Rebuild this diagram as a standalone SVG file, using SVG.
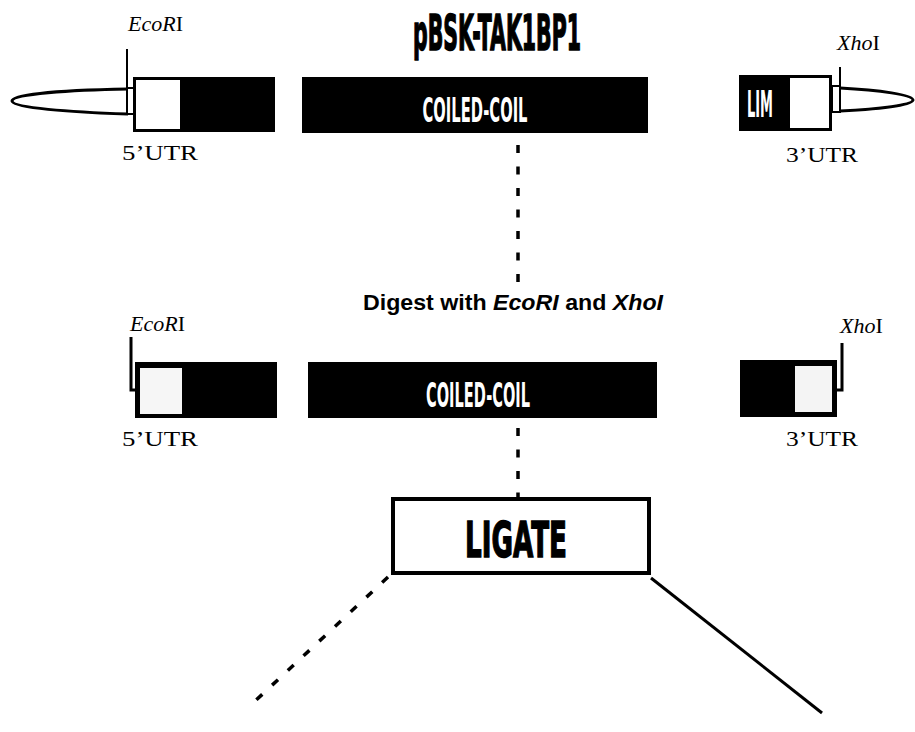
<svg xmlns="http://www.w3.org/2000/svg" width="915" height="732" viewBox="0 0 915 732">
<style>
.ser{font-family:"Liberation Serif","Times New Roman",serif;font-size:22px;fill:#000}
.it{font-style:italic}
.blk{fill:#000}
.wht{fill:#fff}
.cc{font-family:"DejaVu Sans",sans-serif;font-weight:bold;fill:#fff}
.heavy{font-family:"DejaVu Sans",sans-serif;font-weight:bold;fill:#000;stroke:#000;stroke-width:1.6}
.ln{stroke:#000;fill:none;stroke-width:3}
.dash{stroke:#000;fill:none;stroke-width:3.5;stroke-dasharray:8 13.5}
.sans{font-family:"Liberation Sans",Arial,sans-serif;font-weight:bold;font-size:22.5px;fill:#000}
</style>
<rect width="915" height="732" fill="#fff"/>

<g id="title">
<text class="heavy" x="497" y="50" font-size="50" text-anchor="middle" textLength="168" lengthAdjust="spacingAndGlyphs">pBSK-TAK1BP1</text>
</g>

<g id="row1-5prime">
<path class="ln" stroke-width="2.5" d="M128,89 C70,90 12,94 12,101 C12,108 70,112 128,114"/>
<rect x="127" y="88" width="7" height="26" fill="#fff" stroke="#000" stroke-width="2"/>
<line x1="127" y1="49" x2="127" y2="112" stroke="#000" stroke-width="2"/>
<rect class="blk" x="133" y="77" width="142" height="55"/>
<rect class="wht" x="136" y="80" width="44" height="49"/>
<text class="ser" x="128" y="31"><tspan class="it">EcoR</tspan>I</text>
<text class="ser" x="122" y="160" textLength="76" lengthAdjust="spacingAndGlyphs">5’UTR</text>
</g>

<g id="row1-coiled">
<rect class="blk" x="302" y="77" width="346" height="56"/>
<text class="cc" x="475" y="122" font-size="34" text-anchor="middle" textLength="105" lengthAdjust="spacingAndGlyphs">COILED-COIL</text>
</g>

<g id="row1-3prime">
<rect class="blk" x="739" y="75" width="93" height="56"/>
<rect class="wht" x="790" y="78" width="39" height="50"/>
<text class="cc" x="760" y="117" font-size="38" text-anchor="middle" textLength="26" lengthAdjust="spacingAndGlyphs">LIM</text>
<path class="ln" stroke-width="2.5" d="M840,88 C880,90 913,95 913,100 C913,105 880,109 840,111"/>
<rect x="832" y="86" width="8" height="26" fill="#fff" stroke="#000" stroke-width="2"/>
<line x1="840" y1="67" x2="840" y2="112" stroke="#000" stroke-width="2"/>
<text class="ser" x="837" y="50"><tspan class="it">Xho</tspan>I</text>
<text class="ser" x="786" y="162" textLength="72" lengthAdjust="spacingAndGlyphs">3’UTR</text>
</g>

<g id="digest-label">
<text class="sans" x="513" y="310" text-anchor="middle" textLength="300" lengthAdjust="spacingAndGlyphs">Digest with <tspan font-style="italic">EcoRI</tspan> and <tspan font-style="italic">XhoI</tspan></text>
</g>

<g id="row2-5prime">
<path class="ln" d="M131,337 V390 H136"/>
<rect class="blk" x="135" y="362" width="142" height="56"/>
<rect x="140" y="368" width="42" height="46" fill="#f6f6f6"/>
<text class="ser" x="130" y="331"><tspan class="it">EcoR</tspan>I</text>
<text class="ser" x="122" y="446" textLength="76" lengthAdjust="spacingAndGlyphs">5’UTR</text>
</g>

<g id="row2-coiled">
<rect class="blk" x="308" y="362" width="349" height="56"/>
<text class="cc" x="478" y="407" font-size="34" text-anchor="middle" textLength="104" lengthAdjust="spacingAndGlyphs">COILED-COIL</text>
</g>

<g id="row2-3prime">
<rect class="blk" x="740" y="360" width="97" height="57"/>
<rect x="795" y="366" width="37" height="46" fill="#f4f4f4"/>
<path class="ln" d="M842,343 V390 H836"/>
<text class="ser" x="840" y="333"><tspan class="it">Xho</tspan>I</text>
<text class="ser" x="786" y="446" textLength="72" lengthAdjust="spacingAndGlyphs">3’UTR</text>
</g>

<g id="ligate">
<rect x="393" y="499" width="256" height="74" fill="#fff" stroke="#000" stroke-width="4"/>
<text class="heavy" x="516" y="557" font-size="50" text-anchor="middle" textLength="102" lengthAdjust="spacingAndGlyphs">LIGATE</text>
</g>

<g id="connectors">
<line class="dash" x1="518" y1="145" x2="518" y2="284"/>
<line class="dash" x1="518" y1="428" x2="518" y2="497"/>
<line class="dash" stroke-dasharray="12 9" x1="388" y1="577" x2="253" y2="703"/>
<line class="ln" x1="651" y1="578" x2="822" y2="713"/>
</g>
</svg>
